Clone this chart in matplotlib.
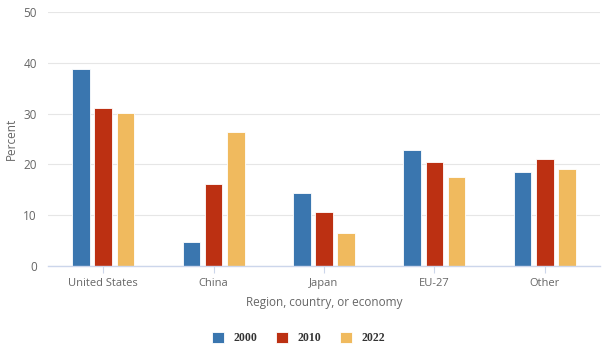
import matplotlib

matplotlib.use("Agg")
import matplotlib.pyplot as plt
import numpy as np

# share of global value, by region and year
regions = ["United States", "China", "Japan", "EU-27", "Other"]
years = ["2000", "2010", "2022"]
share_2000 = [38.8, 4.7, 14.4, 22.8, 18.5]
share_2010 = [31.1, 16.1, 10.6, 20.5, 21.0]
share_2022 = [30.1, 26.4, 6.5, 17.5, 19.1]
colors = ["#3A76AF", "#BC3012", "#F0BA5E"]
yticks = [0, 10, 20, 30, 40, 50]

text_color = "#666666"

fig = plt.figure(figsize=(6.09, 3.55), dpi=100)
ax = fig.add_axes([0.079, 0.251, 0.906, 0.715])

x = np.arange(len(regions))
offset = 0.2
width = 0.16
for i, (vals, year) in enumerate(zip([share_2000, share_2010, share_2022], years)):
    ax.bar(x + (i - 1) * offset, vals, width=width, color=colors[i],
           edgecolor="white", linewidth=0.6, label=year, zorder=3)

ax.set_xlim(-0.5, len(regions) - 0.5)
ax.set_ylim(0, 50)
ax.set_yticks(yticks)
ax.set_xticks(x)
ax.set_xticklabels(regions)

ax.grid(axis="y", color="#E6E6E6", linewidth=0.8, zorder=0)
for side in ["top", "right", "left"]:
    ax.spines[side].set_visible(False)
ax.spines["bottom"].set_color("#CCD6EB")
ax.spines["bottom"].set_linewidth(1.0)
ax.spines["bottom"].set_zorder(4)

ax.tick_params(axis="y", length=0, pad=8, labelsize=8.5, labelcolor=text_color)
ax.tick_params(axis="x", length=5, color="#CCD6EB", pad=4, labelsize=8, labelcolor=text_color)
for lab in ax.get_xticklabels() + ax.get_yticklabels():
    lab.set_fontfamily("Open Sans")

ax.set_ylabel("Percent", fontsize=8.5, color=text_color, family="Open Sans", labelpad=4)
ax.set_xlabel("Region, country, or economy", fontsize=8.5, color=text_color,
              family="Open Sans", labelpad=5)

leg = fig.legend(loc="center", bbox_to_anchor=(0.49, 0.047), ncol=3, frameon=False,
                 handlelength=1.0, handleheight=1.0, columnspacing=1.6, handletextpad=0.8,
                 prop={"family": "Liberation Serif", "weight": "bold", "size": 8.5})
for t in leg.get_texts():
    t.set_color("#333333")

fig.savefig("out.png", dpi=100)
